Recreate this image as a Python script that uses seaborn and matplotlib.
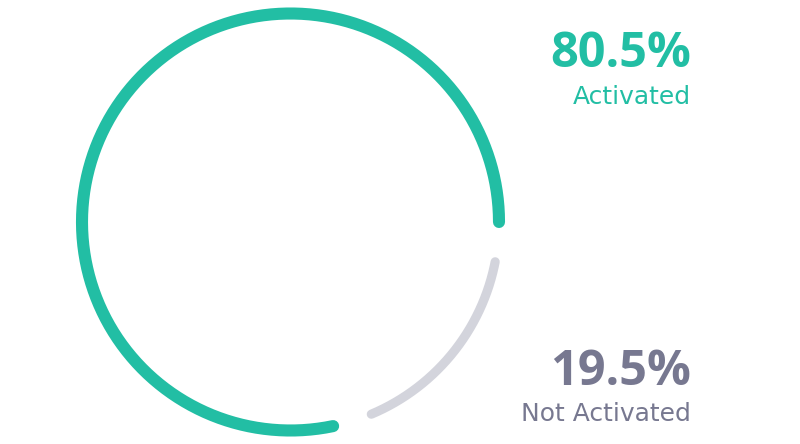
import numpy as np
import matplotlib
matplotlib.use("Agg")
import matplotlib.pyplot as plt
import seaborn as sns

# Data
categories = ["Activated", "Not Activated"]
shares = [80.5, 19.5]
label_texts = ["80.5%", "19.5%"]

# Style
TEAL = "#22BEA4"
GRAY_ARC = "#D3D4DC"
GRAY_TEXT = "#777890"

sns.set_theme(style="white")
plt.rcParams["font.family"] = ["Open Sans", "DejaVu Sans"]

fig = plt.figure(figsize=(8, 4.44), dpi=100)
fig.patch.set_facecolor("white")

R_OUT = 214.5
R_LINE = 208.5
cx, cy = 290.5, 222.0
ax = fig.add_axes([(cx - R_OUT) / 800, (cy - R_OUT) / 444, 2 * R_OUT / 800, 2 * R_OUT / 444],
                  projection="polar")
ax.set_ylim(0, R_OUT)
ax.axis("off")

total = sum(shares)
split = 360.0 * shares[0] / total
segments = [
    (0.0, split - 8.0, TEAL, 8.7),
    (split + 3.0, 360.0 - 11.0, GRAY_ARC, 6.6),
]
for (a0, a1, col, lw), cat in zip(segments, categories):
    theta = np.radians(np.linspace(a0, a1, 400))
    r = np.full_like(theta, R_LINE)
    sns.lineplot(x=theta, y=r, ax=ax, sort=False, estimator=None, color=col,
                 linewidth=lw, solid_capstyle="round", clip_on=False)
ax.set_xlabel("")
ax.set_ylabel("")

# Texts
xr = 691 / 800
label_font = ["DejaVu Sans"]
fig.text(xr, (444 - 67) / 444, label_texts[0], color=TEAL, fontsize=35,
         fontweight="bold", ha="right", va="baseline")
fig.text(xr, (444 - 104) / 444, categories[0], color=TEAL, fontsize=18,
         family=label_font, ha="right", va="baseline")
fig.text(xr, (444 - 385) / 444, label_texts[1], color=GRAY_TEXT, fontsize=35,
         fontweight="bold", ha="right", va="baseline")
fig.text(xr, (444 - 421) / 444, categories[1], color=GRAY_TEXT, fontsize=18,
         family=label_font, ha="right", va="baseline")

fig.savefig("out.png", dpi=100, facecolor="white")
